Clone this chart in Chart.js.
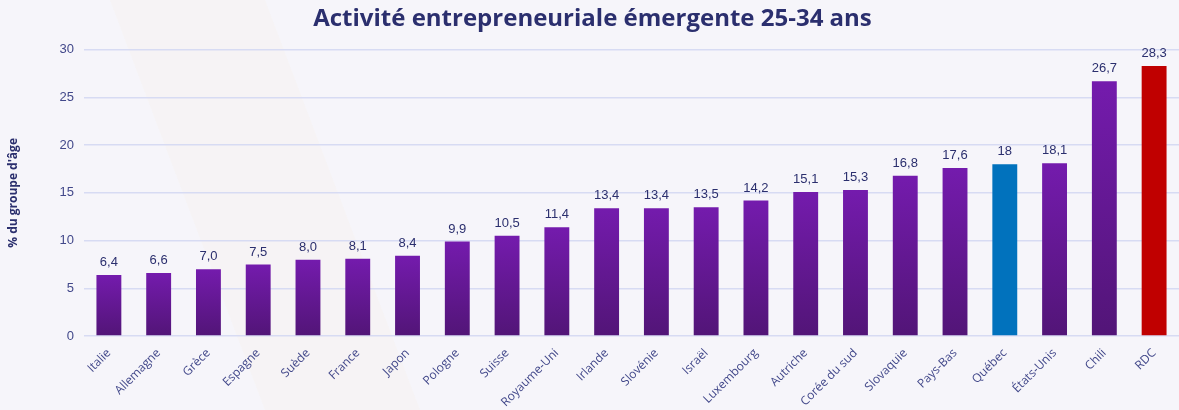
<!DOCTYPE html>
<html lang="fr">
<head>
<meta charset="utf-8">
<script src="https://cdn.jsdelivr.net/npm/chart.js@4"></script>
<style>
  html, body { margin: 0; padding: 0; background: #f6f5fa; }
  #wrap { width: 1179px; height: 410px; }
</style>
</head>
<body>
<div id="wrap"><canvas id="chart" width="1179" height="410"></canvas></div>
<script>
const countries = ["Italie", "Allemagne", "Grèce", "Espagne", "Suède", "France", "Japon", "Pologne", "Suisse", "Royaume-Uni", "Irlande", "Slovénie", "Israël", "Luxembourg", "Autriche", "Corée du sud", "Slovaquie", "Pays-Bas", "Québec", "États-Unis", "Chili", "RDC"]
const values = [6.4, 6.6, 7.0, 7.5, 8.0, 8.1, 8.4, 9.9, 10.5, 11.4, 13.4, 13.4, 13.5, 14.2, 15.1, 15.3, 16.8, 17.6, 18, 18.1, 26.7, 28.3]
const valueLabels = ["6,4", "6,6", "7,0", "7,5", "8,0", "8,1", "8,4", "9,9", "10,5", "11,4", "13,4", "13,4", "13,5", "14,2", "15,1", "15,3", "16,8", "17,6", "18", "18,1", "26,7", "28,3"]
const yTicks = [0, 5, 10, 15, 20, 25, 30]

const navy = "#2b2f6e"
const labelColor = "#42488a"

// each bar fades from a lighter purple at its top to a deep purple at the base
const barFill = (ctx) => {
  const name = countries[ctx.dataIndex]
  if (name === "Québec") return "#0172bd"
  if (name === "RDC") return "#c00000"
  const y = ctx.chart.scales && ctx.chart.scales.y
  if (!y || !ctx.chart.chartArea) return "#6a1a9e"
  const top = y.getPixelForValue(values[ctx.dataIndex])
  const bottom = y.getPixelForValue(0)
  if (!isFinite(top) || !isFinite(bottom) || bottom - top < 1) return "#6a1a9e"
  const g = ctx.chart.ctx.createLinearGradient(0, top, 0, bottom)
  g.addColorStop(0, "#741bad")
  g.addColorStop(1, "#521577")
  return g
}

const background = {
  id: "background",
  beforeDraw(chart) {
    const c = chart.ctx
    c.save()
    c.fillStyle = "#f6f5fa"
    c.fillRect(0, 0, chart.width, chart.height)
    c.fillStyle = "rgba(252, 236, 220, 0.18)"
    c.beginPath()
    c.moveTo(110, 0)
    c.lineTo(265, 0)
    c.lineTo(420, 410)
    c.lineTo(265, 410)
    c.closePath()
    c.fill()
    c.restore()
  },
}

const barValues = {
  id: "barValues",
  afterDatasetsDraw(chart) {
    const c = chart.ctx
    const meta = chart.getDatasetMeta(0)
    c.save()
    c.font = "13px 'Liberation Sans', Arial, sans-serif"
    c.fillStyle = navy
    c.textAlign = "center"
    c.textBaseline = "bottom"
    meta.data.forEach((bar, i) => {
      c.fillText(valueLabels[i], bar.x, bar.y - 6)
    })
    c.restore()
  },
}

new Chart(document.getElementById("chart"), {
  type: "bar",
  data: {
    labels: countries,
    datasets: [
      {
        data: values,
        backgroundColor: barFill,
        borderWidth: 0,
        barPercentage: 0.5,
        categoryPercentage: 1,
      },
    ],
  },
  options: {
    responsive: false,
    animation: false,
    layout: { padding: { left: 6, right: 0, top: 0, bottom: 0 } },
    plugins: {
      legend: { display: false },
      tooltip: { enabled: false },
      title: {
        display: true,
        text: "Activité entrepreneuriale émergente 25-34 ans",
        color: navy,
        font: { family: "'Open Sans', sans-serif", size: 24, weight: "bold" },
        padding: { top: 5, bottom: 16 },
      },
    },
    scales: {
      x: {
        grid: { display: false },
        border: { display: false },
        ticks: {
          color: labelColor,
          font: { family: "'Open Sans', sans-serif", size: 12 },
          minRotation: 45,
          maxRotation: 45,
          padding: 2,
        },
        afterFit: (scale) => { scale.height = 74 },
      },
      y: {
        min: 0,
        max: 30,
        afterBuildTicks: (scale) => { scale.ticks = yTicks.map((v) => ({ value: v })) },
        grid: { color: "#d7dbf3", lineWidth: 1.5, drawTicks: false },
        border: { display: false },
        ticks: {
          color: labelColor,
          font: { family: "'Liberation Sans', Arial, sans-serif", size: 13 },
          padding: 10,
        },
        title: {
          display: true,
          text: "% du groupe d'âge",
          color: navy,
          font: { family: "'Open Sans', sans-serif", size: 12, weight: "bold" },
          padding: { top: 0, bottom: 18 },
        },
        afterFit: (scale) => { scale.width = 78 },
      },
    },
  },
  plugins: [background, barValues],
})
</script>
</body>
</html>
